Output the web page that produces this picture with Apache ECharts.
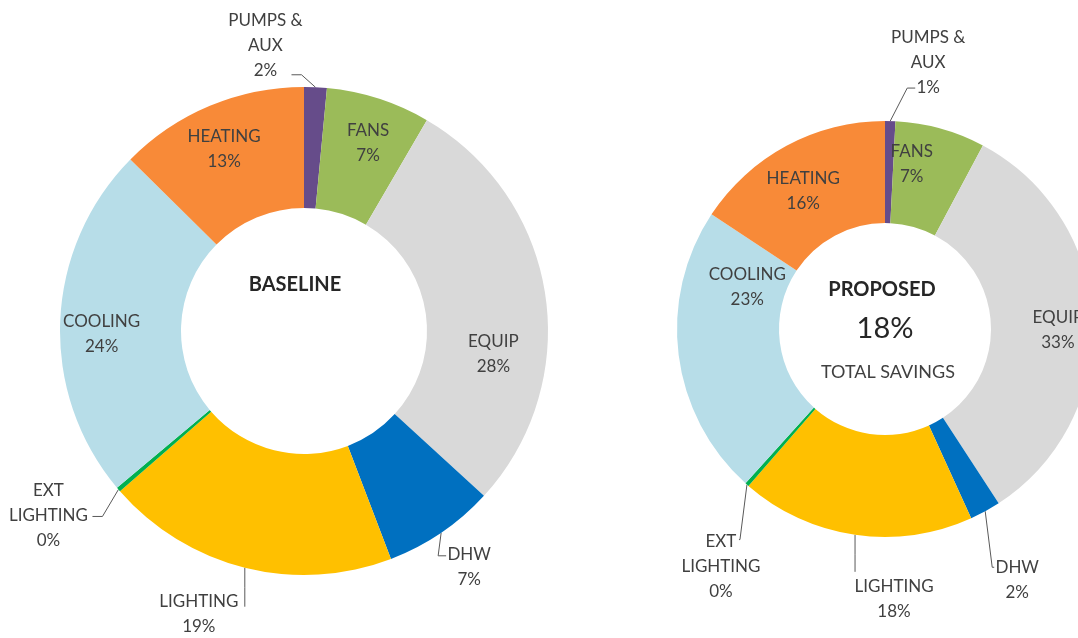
<!DOCTYPE html>
<html>
<head>
<meta charset="utf-8">
<title>Baseline vs Proposed energy end use</title>
<script src="https://cdn.jsdelivr.net/npm/echarts@6/dist/echarts.min.js"></script>
<style>
  html, body { margin: 0; padding: 0; background: #fff; }
  #chart { width: 1078px; height: 638px; }
</style>
</head>
<body>
<div id="chart"></div>
<script>
// end-use categories, clockwise from 12 o'clock
const categories = ['PUMPS &\nAUX', 'FANS', 'EQUIP', 'DHW', 'LIGHTING', 'EXT\nLIGHTING', 'COOLING', 'HEATING'];
// share of energy use, %
const baselineValues = [1.5, 6.9, 28.4, 7.4, 19.4, 0.3, 23.5, 12.6];
const proposedValues = [0.8, 7.0, 33.0, 2.4, 18.2, 0.3, 22.6, 15.7];
const sliceColors = ['#664c8a', '#9bbb59', '#d9d9d9', '#0070c0', '#ffc000', '#00b050', '#b7dde8', '#f88a38'];
const baselineTitle = 'BASELINE';
const proposedTitle = 'PROPOSED';
const savingsValue = '18%';
const savingsText = 'TOTAL SAVINGS';

const chart = echarts.init(document.getElementById('chart'));
const FONT = 'Lato, "Open Sans", sans-serif';
const TEXT = '#404040';

// label placement, per slice: inside labels get a nudge,
// outside ones a leader line relative to the slice's outer edge
const labelPlace = [
  [
    { line: [[-14, -12.5], [-24, -12.5]], tx: -50, ty: -4, va: 'bottom' },
    { dx: 7, dy: -10 },
    { dx: 5, dy: 51 },
    { line: [[-3, 23], [5, 23]], tx: 28, ty: 9.5, va: 'top' },
    { line: [[0, 20], [0, 39]], tx: -46, ty: 21.5, va: 'top' },
    { line: [[-16, 27], [-26, 27]], tx: -70, ty: -11.5, va: 'top' },
    { dx: -16, dy: 11 },
    { dx: -8, dy: -10 }
  ],
  [
    { line: [[17, -33], [25, -33]], tx: 38, ty: -21.5, va: 'bottom' },
    { dx: -16, dy: -11 },
    { dx: 13, dy: 8 },
    { line: [[7, 56], [9, 56]], tx: 32, ty: 43.5, va: 'top' },
    { line: [[0, 20], [0, 37]], tx: 39, ty: 39.5, va: 'top' },
    { line: [[-7, 55], [-8, 55]], tx: -26, ty: 44.5, va: 'top' },
    { dx: 21, dy: -62 },
    { dx: -6, dy: 3 }
  ]
];

function buildData(values, s) {
  return values.map((v, i) => {
    const inside = !labelPlace[s][i].line;
    return {
      name: categories[i],
      value: v,
      itemStyle: { color: sliceColors[i] },
      label: { position: inside ? 'inside' : 'outside' },
      labelLine: { show: !inside }
    };
  });
}

function layoutLabel(params) {
  const p = labelPlace[params.seriesIndex][params.dataIndex];
  if (!p.line) return { dx: p.dx, dy: p.dy };
  const a = params.labelLinePoints[0];
  return {
    x: a[0] + p.tx,
    y: a[1] + p.ty,
    align: 'center',
    verticalAlign: p.va,
    labelLinePoints: [a, [a[0] + p.line[0][0], a[1] + p.line[0][1]], [a[0] + p.line[1][0], a[1] + p.line[1][1]]]
  };
}

function pieSeries(values, s, center, radius) {
  return {
    type: 'pie',
    center: center,
    radius: radius,
    startAngle: 90,
    clockwise: true,
    avoidLabelOverlap: false,
    silent: true,
    data: buildData(values, s),
    label: {
      formatter: p => p.name + '\n' + Math.round(p.percent) + '%',
      fontFamily: FONT,
      fontSize: 17,
      lineHeight: 25,
      color: TEXT,
      align: 'center'
    },
    labelLine: {
      length: 10,
      length2: 10,
      lineStyle: { color: '#595959', width: 1 }
    },
    labelLayout: layoutLabel
  };
}

chart.setOption({
  animation: false,
  series: [
    pieSeries(baselineValues, 0, [304, 331], [123, 244]),
    pieSeries(proposedValues, 1, [885, 329], [106, 208])
  ],
  graphic: [
    { type: 'text', x: 295, y: 285, style: { text: baselineTitle, font: 'bold 20px ' + FONT, fill: '#262626', align: 'center', verticalAlign: 'middle' } },
    { type: 'text', x: 882, y: 290, style: { text: proposedTitle, font: 'bold 20px ' + FONT, fill: '#262626', align: 'center', verticalAlign: 'middle' } },
    { type: 'text', x: 885, y: 329, style: { text: savingsValue, font: '29px ' + FONT, fill: '#262626', align: 'center', verticalAlign: 'middle' } },
    { type: 'text', x: 888, y: 372, style: { text: savingsText, font: '18px ' + FONT, fill: TEXT, align: 'center', verticalAlign: 'middle' } }
  ]
});
</script>
</body>
</html>
